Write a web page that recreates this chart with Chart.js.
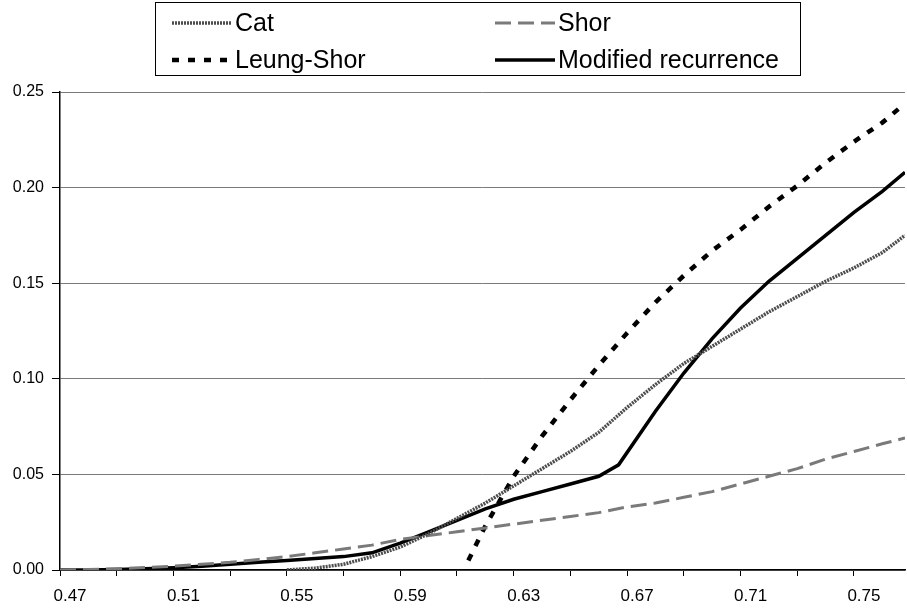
<!DOCTYPE html>
<html>
<head>
<meta charset="utf-8">
<title>Cat / Shor / Leung-Shor / Modified recurrence</title>
<script src="https://cdn.jsdelivr.net/npm/chart.js@4.4.1/dist/chart.umd.min.js"></script>
<style>
  html, body { margin: 0; padding: 0; background: #fff; }
  #wrap { width: 907px; height: 611px; }
</style>
</head>
<body>
<div id="wrap"><canvas id="myChart" width="907" height="611"></canvas></div>
<script>
// values
const xGrid = [0.47, 0.48, 0.49, 0.50, 0.51, 0.52, 0.53, 0.54, 0.55, 0.56, 0.57, 0.58, 0.59, 0.60,
  0.61, 0.62, 0.63, 0.64, 0.65, 0.66, 0.67, 0.68, 0.69, 0.70, 0.71, 0.72, 0.73, 0.74, 0.75, 0.76, 0.768];

const catX = [0.55, 0.56, 0.57, 0.58, 0.59, 0.60, 0.61, 0.62, 0.63, 0.64, 0.65, 0.66, 0.67, 0.68,
  0.69, 0.70, 0.71, 0.72, 0.73, 0.74, 0.75, 0.76, 0.768];
const catY = [0.000, 0.001, 0.003, 0.007, 0.012, 0.019, 0.027, 0.035, 0.044, 0.053, 0.062, 0.072,
  0.085, 0.097, 0.108, 0.117, 0.126, 0.135, 0.143, 0.151, 0.158, 0.166, 0.175];

const shorY = [0, 0.0003, 0.0007, 0.0013, 0.002, 0.003, 0.004, 0.0055, 0.007, 0.009, 0.011, 0.013,
  0.016, 0.018, 0.020, 0.022, 0.024, 0.026, 0.028, 0.030, 0.033, 0.035, 0.038, 0.041, 0.045,
  0.049, 0.053, 0.058, 0.062, 0.066, 0.069];

const leungX = [0.614, 0.62, 0.63, 0.64, 0.65, 0.66, 0.67, 0.68, 0.69, 0.70, 0.71, 0.72, 0.73,
  0.74, 0.75, 0.76, 0.768];
const leungY = [0.005, 0.023, 0.049, 0.070, 0.089, 0.107, 0.124, 0.140, 0.154, 0.167, 0.178,
  0.190, 0.201, 0.213, 0.224, 0.234, 0.244];

const modX = [0.47, 0.48, 0.49, 0.50, 0.51, 0.52, 0.53, 0.54, 0.55, 0.56, 0.57, 0.58, 0.59, 0.60,
  0.61, 0.62, 0.63, 0.64, 0.65, 0.66, 0.667, 0.68, 0.69, 0.70, 0.71, 0.72, 0.73, 0.74, 0.75, 0.76, 0.768];
const modY = [0, 0, 0.0003, 0.0007, 0.0012, 0.002, 0.003, 0.004, 0.005, 0.006, 0.007, 0.009, 0.014,
  0.020, 0.026, 0.032, 0.037, 0.041, 0.045, 0.049, 0.055, 0.083, 0.103, 0.121, 0.137, 0.151,
  0.163, 0.175, 0.187, 0.198, 0.208];

const xTickValues = [0.47, 0.49, 0.51, 0.53, 0.55, 0.57, 0.59, 0.61, 0.63, 0.65, 0.67, 0.69, 0.71, 0.73, 0.75];
const xTickLabels = ['0.47', '0.51', '0.55', '0.59', '0.63', '0.67', '0.71', '0.75'];

const pts = (xs, ys) => xs.map((x, i) => ({ x: x, y: ys[i] }));
const font = '"Liberation Sans", Arial, sans-serif';

// legend drawn in a box, two columns like the original
const boxLegend = {
  id: 'boxLegend',
  afterDraw(chart) {
    const ctx = chart.ctx;
    ctx.save();
    ctx.strokeStyle = '#000';
    ctx.lineWidth = 1;
    ctx.strokeRect(155.5, 2.5, 645, 73);
    const slots = [[172, 23], [495, 23], [172, 60], [495, 60]];
    chart.data.datasets.forEach((ds, i) => {
      const [x, y] = slots[i];
      ctx.beginPath();
      ctx.setLineDash(ds.borderDash || []);
      ctx.strokeStyle = ds.borderColor;
      ctx.lineWidth = ds.borderWidth;
      ctx.moveTo(x, y);
      ctx.lineTo(x + 60, y);
      ctx.stroke();
      ctx.setLineDash([]);
      ctx.fillStyle = '#000';
      ctx.font = '25px ' + font;
      ctx.textBaseline = 'middle';
      ctx.fillText(ds.label, x + 63, y + 1);
    });
    ctx.restore();
  }
};

new Chart(document.getElementById('myChart'), {
  type: 'scatter',
  data: {
    datasets: [
      { label: 'Cat', data: pts(catX, catY), showLine: true, pointRadius: 0,
        borderColor: '#4d4d4d', borderWidth: 3.5, borderDash: [2, 1] },
      { label: 'Shor', data: pts(xGrid, shorY), showLine: true, pointRadius: 0,
        borderColor: '#7a7a7a', borderWidth: 3, borderDash: [16, 7] },
      { label: 'Leung-Shor', data: pts(leungX, leungY), showLine: true, pointRadius: 0,
        borderColor: '#000', borderWidth: 4.5, borderDash: [7, 9] },
      { label: 'Modified recurrence', data: pts(modX, modY), showLine: true, pointRadius: 0,
        borderColor: '#000', borderWidth: 3.5 }
    ]
  },
  options: {
    responsive: false,
    animation: false,
    layout: { padding: { top: 92, right: 2, left: 0, bottom: 0 } },
    plugins: { legend: { display: false }, tooltip: { enabled: false } },
    scales: {
      x: {
        type: 'linear',
        min: 0.47,
        max: 0.768,
        afterFit: (s) => { s.height = 41; },
        afterBuildTicks: (axis) => { axis.ticks = xTickValues.map(v => ({ value: v })); },
        border: { color: '#000', width: 1.5 },
        grid: { drawOnChartArea: false, drawTicks: true, tickLength: 6, tickColor: '#000' },
        ticks: {
          autoSkip: false,
          maxRotation: 0,
          padding: 10,
          labelOffset: 10,
          color: '#000',
          font: { family: font, size: 17 },
          callback: (v) => {
            const s = v.toFixed(2);
            return xTickLabels.includes(s) ? s : '';
          }
        }
      },
      y: {
        min: 0,
        max: 0.25,
        afterFit: (s) => { s.width = 60; },
        border: { color: '#000', width: 1.5 },
        grid: { color: '#7a7a7a', lineWidth: 1, tickLength: 8, tickColor: '#000' },
        ticks: {
          stepSize: 0.05,
          padding: 8,
          color: '#000',
          font: { family: font, size: 16 },
          callback: (v) => v.toFixed(2)
        }
      }
    }
  },
  plugins: [boxLegend]
});
</script>
</body>
</html>
